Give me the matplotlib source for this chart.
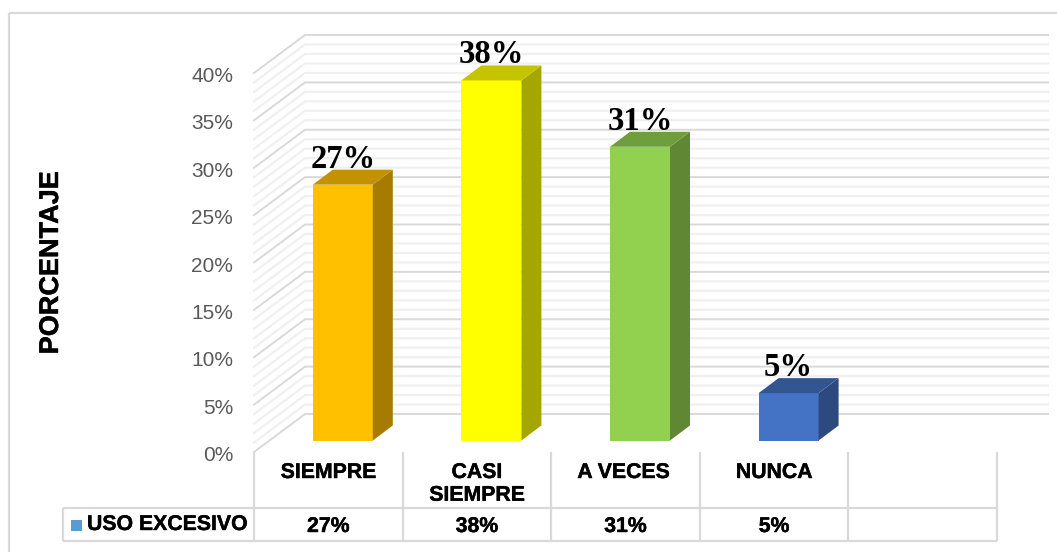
import matplotlib
matplotlib.use("Agg")
import matplotlib.pyplot as plt
import matplotlib.patheffects as pe
from matplotlib.patches import Polygon, Rectangle
from matplotlib.transforms import ScaledTranslation

categories = ["SIEMPRE", "CASI\nSIEMPRE", "A VECES", "NUNCA", ""]
values = [27, 38, 31, 5]
table_labels = ["27%", "38%", "31%", "5%", ""]
y_ticks = [0, 5, 10, 15, 20, 25, 30, 35, 40]
front_colors = ["#FFC000", "#FFFF00", "#92D050", "#4472C4"]
side_colors = ["#A67C00", "#A6A600", "#5F8734", "#2C4A7F"]
top_colors = ["#C49200", "#C4C400", "#6F9F3D", "#335693"]
series_name = "USO EXCESIVO"

W, H = 1057, 552
SANS = "Liberation Sans"
SERIF = "Liberation Serif"
GRID = "#D9D9D9"
LIGHT = "#F0F0F0"
HEAVY = [pe.withStroke(linewidth=0.3, foreground="black")]

# pixel geometry of the plot
X0, X1 = 254, 997
Y0, Y40 = 452, 73
CELL = (X1 - X0) / 5
PCT = (Y0 - Y40) / 40

# --------------------------------------

def dx(px):
    return px / CELL

def dy(px):
    return px / PCT

# --------------------------------------

def draw_walls(ax):
    """Side wall and back wall gridlines, every 1%, darker every 5%."""
    for v in range(0, 41):
        major = v % 5 == 0
        color = GRID if major else LIGHT
        lw = 1.4 if major else 1.6
        zo = 2 if major else 1
        xs = [0, dx(51), 5 + dx(51)]
        ys = [v, v + dy(38), v + dy(38)]
        ax.plot(xs, ys, color=color, lw=lw, zorder=zo, clip_on=False,
                solid_joinstyle="miter")

# --------------------------------------

def draw_bars(ax):
    """3D looking bars: front from ax.bar, then the side and top faces."""
    base = dy(11.5)
    width = dx(60)
    deep_x, deep_y = dx(20), dy(15)
    for i, v in enumerate(values):
        left = i + 0.5 + dx(14.5) - width / 2
        right = left + width
        top = base + v
        ax.bar(left, v, width, bottom=base, align="edge",
               color=front_colors[i], zorder=5, clip_on=False)
        ax.add_patch(Polygon([(right, base), (right + deep_x, base + deep_y),
                              (right + deep_x, top + deep_y), (right, top)],
                             color=side_colors[i], lw=0, zorder=5, clip_on=False))
        ax.add_patch(Polygon([(left, top), (left + deep_x, top + deep_y),
                              (right + deep_x, top + deep_y), (right, top)],
                             color=top_colors[i], lw=0, zorder=5, clip_on=False))
        ax.text(left + width / 2, top + deep_y + dy(2), f"{v}%", ha="center",
                va="baseline", family=SERIF, weight="bold", fontsize=23.5,
                color="black", zorder=6)

# --------------------------------------

def draw_table(page):
    """Frame, category cells and the data table under the plot."""
    line = dict(color=GRID, lw=1.6, solid_capstyle="butt")
    page.plot([9, 9], [13, H], **line)
    page.plot([9, W], [13, 13], **line)

    for i in range(6):
        x = X0 + i * CELL
        page.plot([x, x], [452, 541], **line)
    page.plot([63, 63], [508, 541], **line)
    page.plot([63, X1], [508, 508], **line)
    page.plot([63, X1], [541, 541], **line)

    for i, name in enumerate(categories):
        cx = X0 + (i + 0.5) * CELL
        # A VECES sits a little left of its cell in the original
        shift = -2 if name == "A VECES" else 0
        page.text(cx + shift, 463, name, ha="center", va="top", family=SANS,
                  weight="bold", fontsize=15.3, color="black", linespacing=1.25,
                  path_effects=HEAVY)
        page.text(cx, 526.5, table_labels[i], ha="center", va="center", family=SANS,
                  weight="bold", fontsize=15.3, color="black", path_effects=HEAVY)

    page.add_patch(Rectangle((71, 520), 11, 11, color="#5B9BD5", lw=0))
    page.text(87, 524.5, series_name, ha="left", va="center", family=SANS,
              weight="bold", fontsize=15.3, color="black", path_effects=HEAVY)
    page.text(51, 262.5, "PORCENTAJE", rotation=90, ha="center", va="center",
              family=SANS, weight="bold", fontsize=19.5, color="black",
              path_effects=HEAVY)

# --------------------------------------

def main():
    fig = plt.figure(figsize=(W / 100, H / 100), dpi=100, facecolor="white")

    page = fig.add_axes([0, 0, 1, 1])
    page.set_xlim(0, W)
    page.set_ylim(H, 0)
    page.axis("off")
    draw_table(page)

    ax = fig.add_axes([X0 / W, (H - Y0) / H, (X1 - X0) / W, (Y0 - Y40) / H])
    ax.patch.set_alpha(0)
    ax.set_xlim(0, 5)
    ax.set_ylim(0, 40)
    for s in ax.spines.values():
        s.set_visible(False)
    ax.set_xticks([])
    ax.set_yticks(y_ticks)
    ax.set_yticklabels([f"{t}%" for t in y_ticks], family=SANS, fontsize=15,
                       color="#595959")
    ax.tick_params(axis="y", length=0, pad=15)
    nudge = ScaledTranslation(0, -1.5 / 100, fig.dpi_scale_trans)
    for label in ax.get_yticklabels():
        label.set_transform(label.get_transform() + nudge)

    draw_walls(ax)
    draw_bars(ax)

    fig.savefig("out.png", dpi=100)

# --------------------------------------

main()
